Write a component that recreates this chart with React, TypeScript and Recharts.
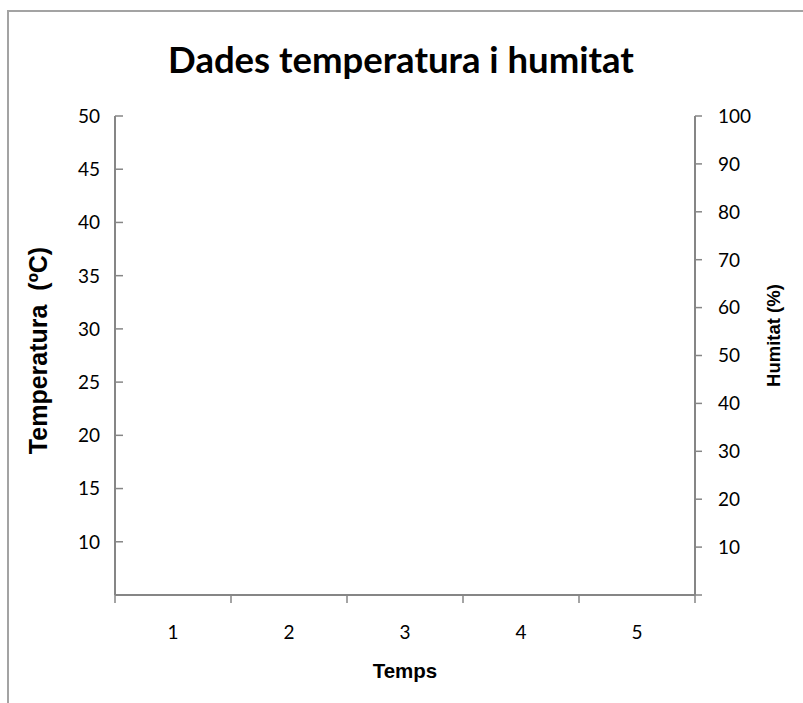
import React from 'react';
import { ComposedChart, Line, XAxis, YAxis } from 'recharts';

// Data (the reference chart shows empty series)
const categories: number[] = [1, 2, 3, 4, 5];
const temperature: (number | null)[] = [null, null, null, null, null];
const humidity: (number | null)[] = [null, null, null, null, null];
const tempTicks: number[] = [10, 15, 20, 25, 30, 35, 40, 45, 50];
const humTicks: number[] = [10, 20, 30, 40, 50, 60, 70, 80, 90, 100];

const data = categories.map((c, i) => ({ x: c, temperature: temperature[i], humidity: humidity[i] }));
const xTicks: number[] = [categories[0] - 0.5, ...categories.flatMap((c) => [c, c + 0.5])];

const AX = '#868686';
const TICK_FONT = 'Lato, "Open Sans", sans-serif';
const TITLE_FONT = '"Liberation Sans", Arial, sans-serif';
const TICK_SIZE = 19;

const LeftTick = (props: any) => {
  const { x, y, payload } = props;
  return (
    <g>
      <line x1={x} x2={x + 8} y1={y} y2={y} stroke={AX} strokeWidth={1.5} />
      {payload.value !== 5 && (
        <text x={x - 15} y={y} dy="0.36em" textAnchor="end" fontFamily={TICK_FONT} fontSize={TICK_SIZE} fill="#000">
          {payload.value}
        </text>
      )}
    </g>
  );
};

const RightTick = (props: any) => {
  const { x, y, payload } = props;
  return (
    <g>
      <line x1={x} x2={x + 7} y1={y} y2={y} stroke={AX} strokeWidth={1.5} />
      {payload.value !== 0 && (
        <text x={x + 23} y={y} dy="0.36em" textAnchor="start" fontFamily={TICK_FONT} fontSize={TICK_SIZE} fill="#000">
          {payload.value}
        </text>
      )}
    </g>
  );
};

const BottomTick = (props: any) => {
  const { x, y, payload } = props;
  const v = payload.value;
  if (Number.isInteger(v)) {
    return (
      <text x={x} y={y + 37} dy="0.36em" textAnchor="middle" fontFamily={TICK_FONT} fontSize={TICK_SIZE} fill="#000">
        {v}
      </text>
    );
  }
  return <line x1={x} x2={x} y1={y} y2={y + 8} stroke={AX} strokeWidth={1.5} />;
};

export default function App() {
  return (
    <div style={{ position: 'absolute', left: 0, top: 0, width: 803, height: 703, overflow: 'hidden', background: '#fff' }}>
      <div
        style={{
          position: 'absolute',
          left: 7,
          top: 10,
          width: 900,
          height: 800,
          borderLeft: '2px solid #a3a3a3',
          borderTop: '2px solid #a3a3a3',
        }}
      />
      <svg width={803} height={110} style={{ position: 'absolute', left: 0, top: 0 }}>
        <text x={401} y={73} textAnchor="middle" fontFamily={TICK_FONT} fontWeight={700} fontSize={36.5} fill="#000">
          Dades temperatura i humitat
        </text>
      </svg>
      <div style={{ position: 'absolute', left: 0, top: 0 }}>
        <ComposedChart width={803} height={703} data={data} margin={{ top: 116, right: 0, bottom: 0, left: 0 }}>
          <XAxis
            xAxisId="x"
            dataKey="x"
            type="number"
            domain={[categories[0] - 0.5, categories[categories.length - 1] + 0.5]}
            allowDataOverflow
            ticks={xTicks}
            interval={0}
            height={108}
            tickSize={0}
            tickMargin={0}
            tickLine={false}
            axisLine={{ stroke: AX, strokeWidth: 2 }}
            tick={<BottomTick />}
            label={{
              content: (p: any) => {
                const vb = p.viewBox;
                return (
                  <text x={vb.x + vb.width / 2} y={vb.y + 83} textAnchor="middle" fontFamily={TITLE_FONT} fontWeight={700} fontSize={20.5} fill="#000">
                    Temps
                  </text>
                );
              },
            }}
          />
          <YAxis
            yAxisId="t"
            orientation="left"
            type="number"
            domain={[5, 50]}
            allowDataOverflow
            ticks={[5, ...tempTicks]}
            interval={0}
            width={115}
            tickSize={0}
            tickMargin={0}
            tickLine={false}
            axisLine={{ stroke: AX, strokeWidth: 2 }}
            tick={<LeftTick />}
            label={{
              content: (p: any) => {
                const vb = p.viewBox;
                const cx = vb.x + 38;
                const cy = vb.y + vb.height / 2 - 5;
                return (
                  <text
                    transform={`translate(${cx},${cy}) rotate(-90)`}
                    textAnchor="middle"
                    dominantBaseline="central"
                    fontFamily={TITLE_FONT}
                    fontWeight={700}
                    fontSize={25}
                    fill="#000"
                    style={{ whiteSpace: 'pre' }}
                  >
                    {'Temperatura  (ºC)'}
                  </text>
                );
              },
            }}
          />
          <YAxis
            yAxisId="h"
            orientation="right"
            type="number"
            domain={[0, 100]}
            allowDataOverflow
            ticks={[0, ...humTicks]}
            interval={0}
            width={108}
            tickSize={0}
            tickMargin={0}
            tickLine={false}
            axisLine={{ stroke: AX, strokeWidth: 2 }}
            tick={<RightTick />}
            label={{
              content: (p: any) => {
                const vb = p.viewBox;
                const cx = vb.x + 78;
                const cy = vb.y + vb.height / 2 - 20;
                return (
                  <text
                    transform={`translate(${cx},${cy}) rotate(-90)`}
                    textAnchor="middle"
                    dominantBaseline="central"
                    fontFamily={TITLE_FONT}
                    fontWeight={700}
                    fontSize={18.5}
                    fill="#000"
                  >
                    Humitat (%)
                  </text>
                );
              },
            }}
          />
          <Line xAxisId="x" yAxisId="t" dataKey="temperature" stroke="#4f81bd" dot={false} isAnimationActive={false} />
          <Line xAxisId="x" yAxisId="h" dataKey="humidity" stroke="#c0504d" dot={false} isAnimationActive={false} />
        </ComposedChart>
      </div>
    </div>
  );
}
